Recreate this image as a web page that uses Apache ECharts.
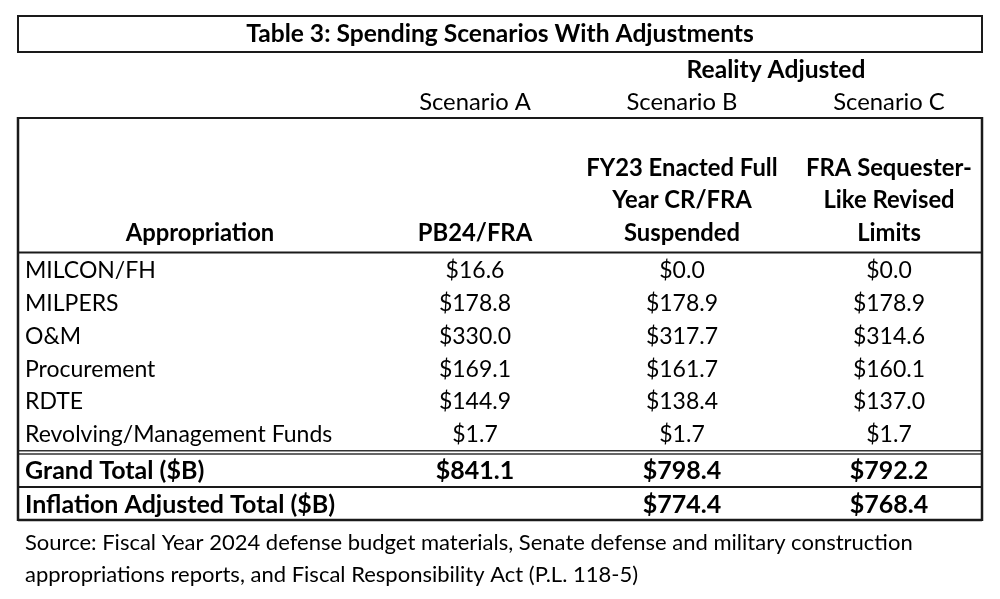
<!DOCTYPE html>
<html>
<head>
<meta charset="utf-8">
<script src="https://cdn.jsdelivr.net/npm/echarts@6/dist/echarts.min.js"></script>
<style>html,body{margin:0;padding:0;background:#fff}#c{width:1000px;height:599px}</style>
</head>
<body>
<div id="c"></div>
<script>
// ---- data ----
const tableTitle = 'Table 3: Spending Scenarios With Adjustments';
const groupTitle = 'Reality Adjusted';
const scenarioNames = ['Scenario A', 'Scenario B', 'Scenario C'];
const firstColumnHeader = 'Appropriation';
const columnHeaders = [
  ['PB24/FRA'],
  ['FY23 Enacted Full', 'Year CR/FRA', 'Suspended'],
  ['FRA Sequester-', 'Like Revised', 'Limits']
];
const rowLabels = ['MILCON/FH', 'MILPERS', 'O&M', 'Procurement', 'RDTE', 'Revolving/Management Funds'];
const scenarioA = [16.6, 178.8, 330.0, 169.1, 144.9, 1.7];
const scenarioB = [0.0, 178.9, 317.7, 161.7, 138.4, 1.7];
const scenarioC = [0.0, 178.9, 314.6, 160.1, 137.0, 1.7];
const totalLabels = ['Grand Total ($B)', 'Inflation Adjusted Total ($B)'];
const totalA = [841.1, null];
const totalB = [798.4, 774.4];
const totalC = [792.2, 768.4];
const sourceLines = [
  'Source: Fiscal Year 2024 defense budget materials, Senate defense and military construction',
  'appropriations reports, and Fiscal Responsibility Act (P.L. 118-5)'
];

// ---- layout / style ----
const FONT = 'Lato, "Open Sans", sans-serif';
const SIZE = 23;
const HEAD_SIZE = 23.8;
const TITLE_SIZE = 24.6;
const TOTAL_SIZE = 25;
const SOURCE_SIZE = 22;
const INK = '#000';
const LINE = '#1a1a1a';
const L = 18, R = 982;
const colCenters = [475, 682, 889];
const labelX = 25;
const DY = 1.2; // optical nudge of text within a cell

const fmt = v => (v === null || v === undefined) ? '' : '$' + v.toFixed(1);

function cellData(cols) {
  const out = [];
  cols.forEach((arr, j) => arr.forEach((v, i) => { if (v !== null) out.push([j, i, v]); }));
  return out;
}

function valueSeries(gridIndex, cols, bold, size) {
  return {
    type: 'custom', xAxisIndex: gridIndex, yAxisIndex: gridIndex,
    data: cellData(cols),
    renderItem: function (params, api) {
      const p = api.coord([api.value(0), api.value(1)]);
      return {
        type: 'text',
        style: {
          text: fmt(api.value(2)), x: p[0], y: p[1] + DY,
          align: 'center', verticalAlign: 'middle',
          font: (bold ? 'bold ' : '') + size + 'px ' + FONT, fill: INK
        }
      };
    }
  };
}

function labelSeries(gridIndex, labels, bold, size) {
  return {
    type: 'custom', xAxisIndex: gridIndex, yAxisIndex: gridIndex,
    data: labels.map((t, i) => [0, i]),
    renderItem: function (params, api) {
      const p = api.coord([0, api.value(1)]);
      return {
        type: 'text',
        style: {
          text: labels[params.dataIndex], x: labelX, y: p[1] + DY,
          align: 'left', verticalAlign: 'middle',
          font: (bold ? 'bold ' : '') + size + 'px ' + FONT, fill: INK
        }
      };
    }
  };
}

const rowIdx = rowLabels.map((_, i) => i);
const totIdx = totalLabels.map((_, i) => i);

function txt(text, x, y, align, bold, size) {
  return {
    type: 'text', x: x, y: y, silent: true,
    style: {
      text: text, align: align, verticalAlign: 'middle',
      font: (bold ? 'bold ' : '') + (size || SIZE) + 'px ' + FONT, fill: INK
    }
  };
}
function hline(y, w, color) {
  return { type: 'line', silent: true, shape: { x1: L, y1: y, x2: R, y2: y }, style: { stroke: color || LINE, lineWidth: w } };
}
function vline(x, y1, y2, w) {
  return { type: 'line', silent: true, shape: { x1: x, y1: y1, x2: x, y2: y2 }, style: { stroke: LINE, lineWidth: w } };
}

const graphics = [];
// title box
graphics.push({ type: 'rect', silent: true, shape: { x: L, y: 16, width: R - L, height: 36 }, style: { fill: 'none', stroke: LINE, lineWidth: 2 } });
graphics.push(txt(tableTitle, (L + R) / 2, 34.5, 'center', true, TITLE_SIZE));
graphics.push(txt(groupTitle, 776, 70, 'center', true, TITLE_SIZE));
scenarioNames.forEach((s, j) => graphics.push(txt(s, colCenters[j], 102, 'center', false, HEAD_SIZE)));
// header block
graphics.push(txt(firstColumnHeader, 200, 233, 'center', true, HEAD_SIZE));
const headerLineY = [168, 200, 233];
columnHeaders.forEach((lines, j) => {
  const offset = headerLineY.length - lines.length;
  lines.forEach((t, k) => graphics.push(txt(t, colCenters[j], headerLineY[offset + k], 'center', true, HEAD_SIZE)));
});
// borders
graphics.push(hline(118, 2));
graphics.push(hline(252.5, 2));
graphics.push(hline(450.8, 1.6, '#333'));
graphics.push(hline(454, 1.6, '#333'));
graphics.push(hline(487, 2));
graphics.push(hline(520, 2.5));
graphics.push(vline(L, 117, 521, 2.5));
graphics.push(vline(R, 117, 521, 2.5));
// source
sourceLines.forEach((t, k) => graphics.push(txt(t, labelX, 543 + k * 32, 'left', false, SOURCE_SIZE)));

const hiddenCat = (data, inverse) => ({
  type: 'category', data: data, inverse: !!inverse, show: false,
  axisLine: { show: false }, axisTick: { show: false }, axisLabel: { show: false }, splitLine: { show: false }
});

const chart = echarts.init(document.getElementById('c'), null, { renderer: 'canvas' });
chart.setOption({
  animation: false,
  backgroundColor: '#fff',
  grid: [
    { left: colCenters[0] - 103.5, right: 1000 - (colCenters[2] + 103.5), top: 253, height: 197 },
    { left: colCenters[0] - 103.5, right: 1000 - (colCenters[2] + 103.5), top: 453, height: 67 }
  ],
  xAxis: [hiddenCat(scenarioNames), { ...hiddenCat(scenarioNames), gridIndex: 1 }],
  yAxis: [hiddenCat(rowIdx, true), { ...hiddenCat(totIdx, true), gridIndex: 1 }],
  series: [
    labelSeries(0, rowLabels, false, SIZE),
    valueSeries(0, [scenarioA, scenarioB, scenarioC], false, SIZE),
    labelSeries(1, totalLabels, true, TOTAL_SIZE),
    valueSeries(1, [totalA, totalB, totalC], true, TOTAL_SIZE)
  ],
  graphic: graphics
});
</script>
</body>
</html>
